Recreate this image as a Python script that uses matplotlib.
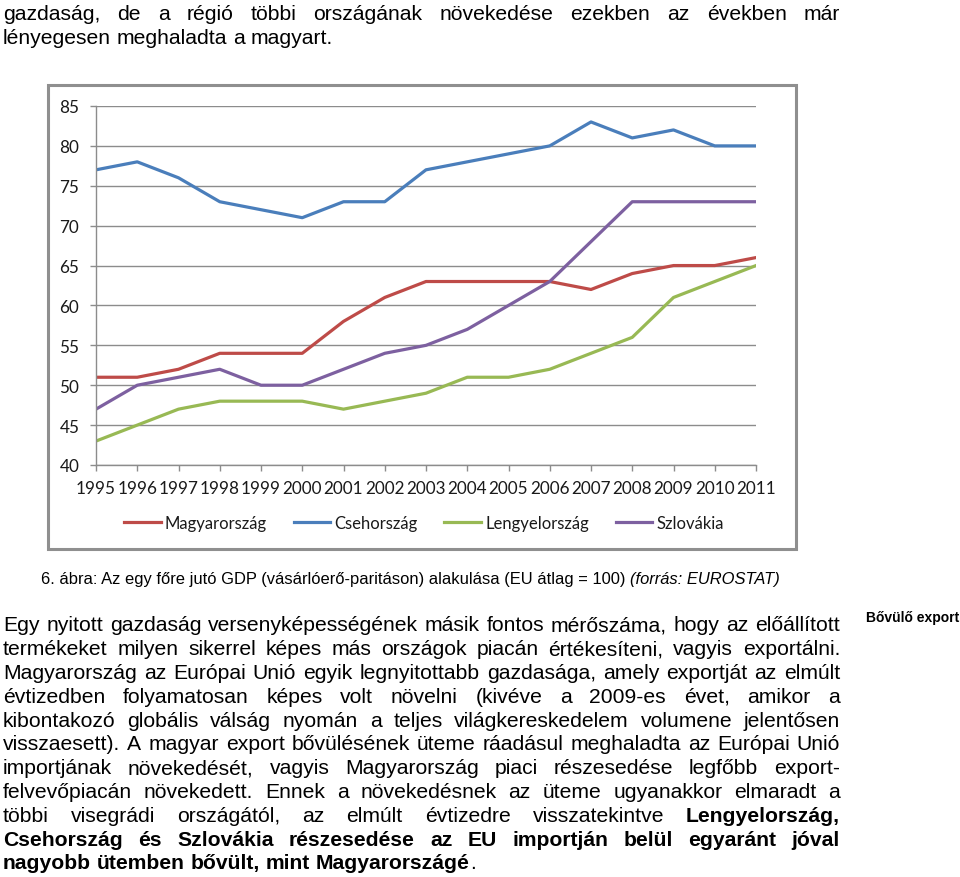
import matplotlib
matplotlib.use("Agg")
import matplotlib.pyplot as plt
from matplotlib import font_manager
from matplotlib.lines import Line2D
from matplotlib.patches import Rectangle

# ====== DATA ======
years = [str(y) for y in range(1995, 2012)]
hungary = [51, 51, 52, 54, 54, 54, 58, 61, 63, 63, 63, 63, 62, 64, 65, 65, 66]
czech = [77, 78, 76, 73, 72, 71, 73, 73, 77, 78, 79, 80, 83, 81, 82, 80, 80]
poland = [43, 45, 47, 48, 48, 48, 47, 48, 49, 51, 51, 52, 54, 56, 61, 63, 65]
slovakia = [47, 50, 51, 52, 50, 50, 52, 54, 55, 57, 60, 63, 68, 73, 73, 73, 73]
series_names = ["Magyarország", "Csehország", "Lengyelország", "Szlovákia"]
y_ticks = [40, 45, 50, 55, 60, 65, 70, 75, 80, 85]

top_lines = [
    "gazdaság, de a régió többi országának növekedése ezekben az években már",
    "lényegesen meghaladta a magyart.",
]
caption_main = "6. ábra: Az egy főre jutó GDP (vásárlóerő-paritáson) alakulása (EU átlag = 100) "
caption_src = "(forrás: EUROSTAT)"
side_note = "Bővülő export"
# words wrapped in * are bold
body_lines = [
    "Egy nyitott gazdaság versenyképességének másik fontos mérőszáma, hogy az előállított",
    "termékeket milyen sikerrel képes más országok piacán értékesíteni, vagyis exportálni.",
    "Magyarország az Európai Unió egyik legnyitottabb gazdasága, amely exportját az elmúlt",
    "évtizedben folyamatosan képes volt növelni (kivéve a 2009-es évet, amikor a",
    "kibontakozó globális válság nyomán a teljes világkereskedelem volumene jelentősen",
    "visszaesett). A magyar export bővülésének üteme ráadásul meghaladta az Európai Unió",
    "importjának növekedését, vagyis Magyarország piaci részesedése legfőbb export-",
    "felvevőpiacán növekedett. Ennek a növekedésnek az üteme ugyanakkor elmaradt a",
    "többi visegrádi országától, az elmúlt évtizedre visszatekintve *Lengyelország,*",
    "*Csehország* *és* *Szlovákia* *részesedése* *az* *EU* *importján* *belül* *egyaránt* *jóval*",
    "*nagyobb* *ütemben* *bővült,* *mint* *Magyarországé*.",
]

# ====== SETUP ======
W, H = 960, 878
fig = plt.figure(figsize=(W / 100, H / 100), dpi=100)
renderer = fig.canvas.get_renderer()

names = {f.name for f in font_manager.fontManager.ttflist}
body_font = "Liberation Sans"
narrow_font = "Liberation Sans Narrow" if "Liberation Sans Narrow" in names else "Liberation Sans"
chart_font = "Lato"


def fx(x):
    return x / W


def fy(y):
    return 1 - y / H


def put_line(text, y_base, x0, x1, size, justify=True, family=body_font):
    words = text.split(" ")
    objs = []
    for w in words:
        bold = w.startswith("*")
        parts = w.split("*")
        # "*word*." -> bold word + regular trailing punctuation
        segs = []
        if bold:
            segs.append((parts[1], True))
            if parts[2]:
                segs.append((parts[2], False))
        else:
            segs.append((w, False))
        group = []
        for s, b in segs:
            t = fig.text(0, fy(y_base), s, fontsize=size, family=family,
                         weight="bold" if b else "normal", va="baseline", ha="left",
                         color="black")
            group.append((t, t.get_window_extent(renderer).width))
        objs.append(group)
    widths = [sum(g[1] for g in grp) for grp in objs]
    if justify and len(objs) > 1:
        gap = (x1 - x0 - sum(widths)) / (len(objs) - 1)
    else:
        gap = size * 100 / 72 * 0.278
    x = x0
    for grp, wd in zip(objs, widths):
        xx = x
        for t, w in grp:
            t.set_x(fx(xx))
            xx += w
        x += wd + gap


# ====== TEXT ABOVE ======
body_size = 15.2
put_line(top_lines[0], 19.5, 3, 840, body_size)
put_line(top_lines[1], 44.5, 3, 840, body_size, justify=False)

# ====== CHART FRAME ======
fig.patches.append(Rectangle((fx(48), fy(550)), (796 - 48) / W, (550 - 86) / H,
                             transform=fig.transFigure, fill=False,
                             edgecolor="#8f8f8f", linewidth=2.2))

ax = fig.add_axes([fx(96), fy(466), (756 - 96) / W, (466 - 107) / H])
x = list(range(len(years)))
colors = ["#BE4B48", "#4A7EBB", "#98B954", "#7D60A0"]
for vals, col, name in zip([hungary, czech, poland, slovakia], colors, series_names):
    ax.plot(x, vals, color=col, linewidth=2.3, label=name, solid_joinstyle="round")

ax.set_xlim(0, len(years) - 1)
ax.set_ylim(40, 85)
ax.set_yticks(y_ticks)
ax.set_xticks(x)
ax.set_xticklabels(years)
ax.yaxis.grid(True, color="#8c8c8c", linewidth=1)
ax.set_axisbelow(True)
for s in ["top", "right"]:
    ax.spines[s].set_visible(False)
for s in ["left", "bottom"]:
    ax.spines[s].set_color("#8c8c8c")
    ax.spines[s].set_linewidth(1)
ax.tick_params(axis="both", colors="#8c8c8c", length=4, width=1, labelcolor="#1a1a1a",
               labelsize=12.3)
ax.tick_params(axis="y", pad=8)
ax.tick_params(axis="x", pad=7)
for lab in ax.get_xticklabels() + ax.get_yticklabels():
    lab.set_family(chart_font)

handles = [Line2D([], [], color=c, linewidth=2.3) for c in colors]
leg = fig.legend(handles, series_names, loc="center", bbox_to_anchor=(fx(424), fy(524)),
                 ncol=4, frameon=False, handlelength=2.2, handletextpad=0.25,
                 columnspacing=1.6, prop={"family": chart_font, "size": 12})
for t in leg.get_texts():
    t.set_color("#1a1a1a")

# ====== CAPTION ======
cap_size = 11.85
cap = fig.text(fx(41), fy(584), caption_main, fontsize=cap_size, family=narrow_font,
               va="baseline", ha="left")
cw = cap.get_window_extent(renderer).width
fig.text(fx(41 + cw), fy(584), caption_src, fontsize=cap_size, family=narrow_font,
         style="italic", va="baseline", ha="left")

# ====== BODY ======
fig.text(fx(866), fy(622), side_note, fontsize=10, family=narrow_font, weight="bold",
         va="baseline", ha="left")
for i, line in enumerate(body_lines):
    last = i == len(body_lines) - 1
    put_line(line, 631.5 + 23.8 * i, 3, 840, body_size, justify=not last)

fig.savefig("out.png", dpi=100)
